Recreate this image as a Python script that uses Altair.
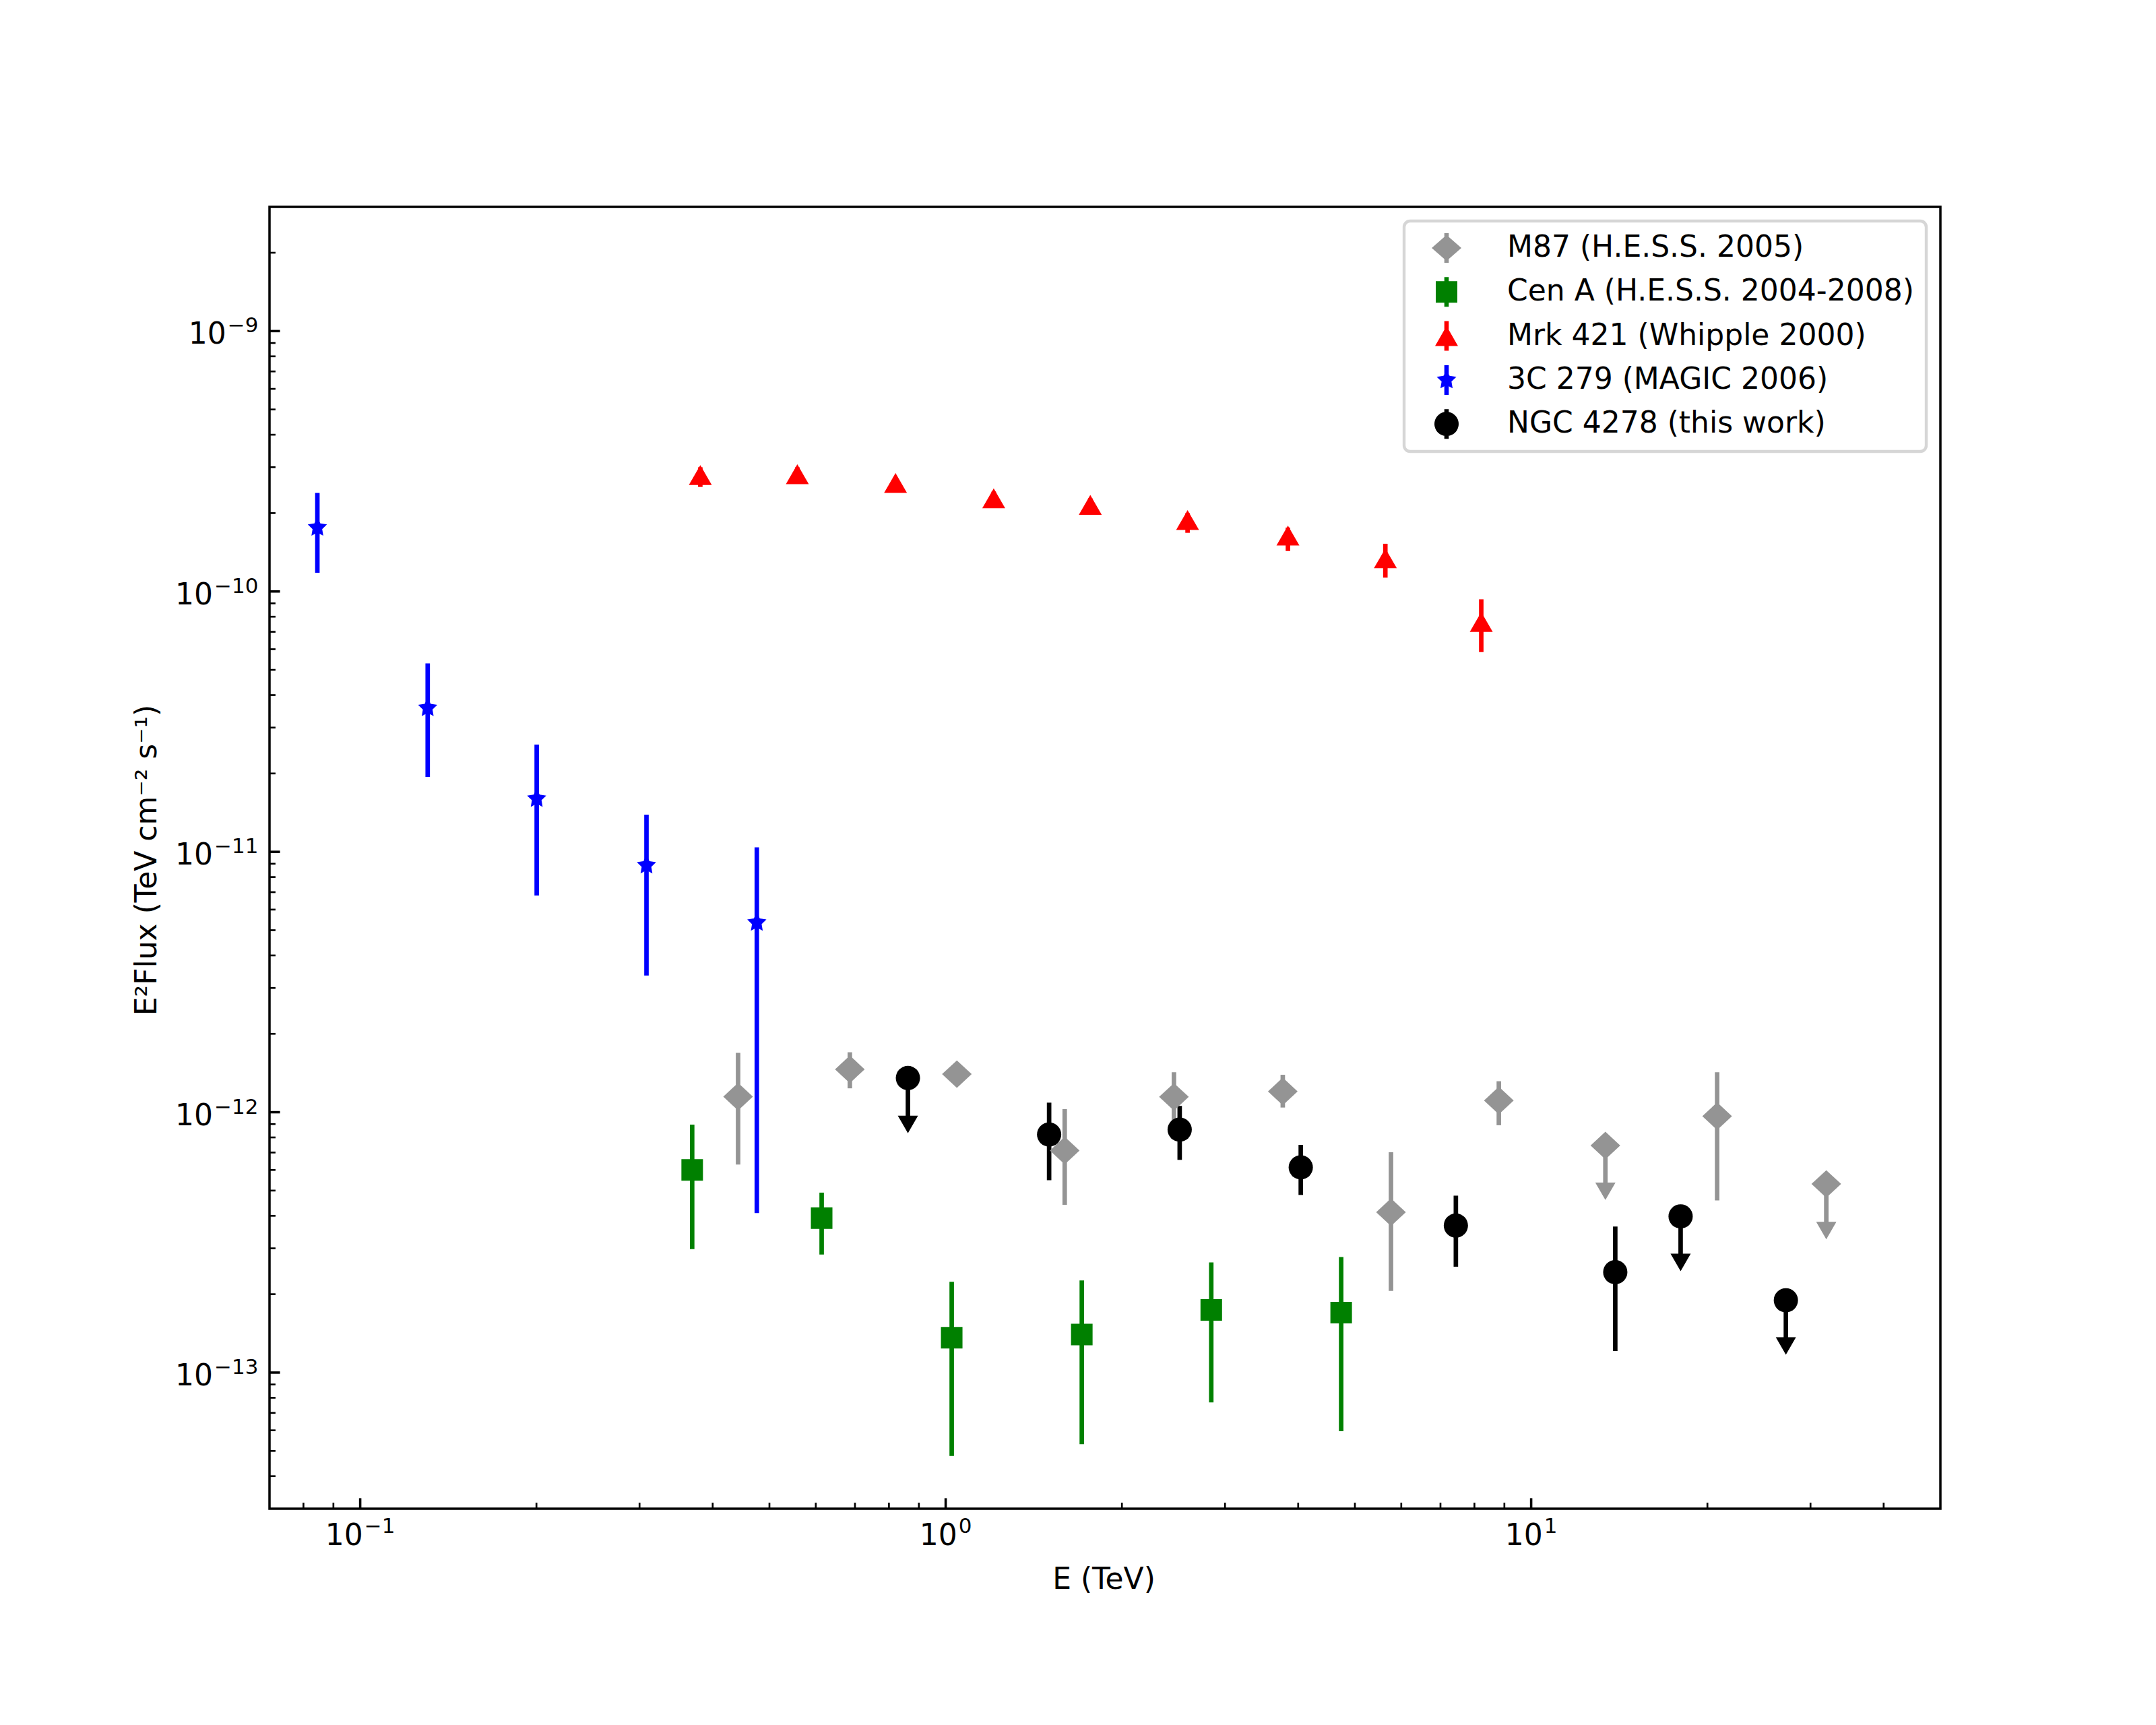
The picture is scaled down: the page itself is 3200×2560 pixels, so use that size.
import math
import altair as alt
import pandas as pd

# ---------------- data ----------------
series_names = ["M87 (H.E.S.S. 2005)", "Cen A (H.E.S.S. 2004-2008)", "Mrk 421 (Whipple 2000)",
                "3C 279 (MAGIC 2006)", "NGC 4278 (this work)"]
series_colors = ["#949494", "#008000", "#ff0000", "#0000ff", "#000000"]

m87_E = [0.442, 0.686, 1.045, 1.597, 2.454, 3.765, 5.762, 8.806, 13.39, 20.78, 31.92]
m87_F = [1.147e-12, 1.461e-12, 1.40e-12, 7.12e-13, 1.145e-12, 1.201e-12, 4.13e-13, 1.109e-12, 7.45e-13, 9.65e-13, 5.30e-13]
m87_lo = [6.29e-13, 1.235e-12, 1.30e-12, 4.41e-13, 9.22e-13, 1.042e-12, 2.06e-13, 8.91e-13, None, 4.58e-13, None]
m87_hi = [1.689e-12, 1.699e-12, 1.50e-12, 1.027e-12, 1.424e-12, 1.392e-12, 7.02e-13, 1.315e-12, None, 1.424e-12, None]
m87_ul = [None, None, None, None, None, None, None, None, 4.60e-13, None, 3.25e-13]

cena_E = [0.369, 0.614, 1.024, 1.708, 2.842, 4.737]
cena_F = [6.00e-13, 3.92e-13, 1.36e-13, 1.40e-13, 1.74e-13, 1.70e-13]
cena_lo = [2.98e-13, 2.84e-13, 4.78e-14, 5.31e-14, 7.68e-14, 5.95e-14]
cena_hi = [8.96e-13, 4.91e-13, 2.23e-13, 2.26e-13, 2.65e-13, 2.78e-13]
cena_ul = [None, None, None, None, None, None]

mrk_E = [0.381, 0.558, 0.821, 1.208, 1.766, 2.589, 3.842, 5.636, 8.218]
mrk_F = [2.80e-10, 2.82e-10, 2.61e-10, 2.28e-10, 2.15e-10, 1.88e-10, 1.64e-10, 1.34e-10, 7.64e-11]
mrk_lo = [2.52e-10, 2.65e-10, 2.45e-10, 2.12e-10, 1.99e-10, 1.68e-10, 1.43e-10, 1.13e-10, 5.85e-11]
mrk_hi = [3.00e-10, 3.00e-10, 2.75e-10, 2.42e-10, 2.28e-10, 2.00e-10, 1.76e-10, 1.525e-10, 9.33e-11]
mrk_ul = [None, None, None, None, None, None, None, None, None]

c3_E = [0.0845, 0.1304, 0.2002, 0.3083, 0.4758]
c3_F = [1.76e-10, 3.57e-11, 1.60e-11, 8.88e-12, 5.35e-12]
c3_lo = [1.18e-10, 1.94e-11, 6.80e-12, 3.35e-12, 4.10e-13]
c3_hi = [2.39e-10, 5.29e-11, 2.58e-11, 1.39e-11, 1.04e-11]
c3_ul = [None, None, None, None, None]

ngc_E = [0.862, 1.502, 2.510, 4.041, 7.437, 13.92, 18.00, 27.23]
ngc_F = [1.353e-12, 8.21e-13, 8.57e-13, 6.14e-13, 3.67e-13, 2.43e-13, 3.98e-13, 1.895e-13]
ngc_lo = [None, 5.48e-13, 6.56e-13, 4.81e-13, 2.55e-13, 1.21e-13, None, None]
ngc_hi = [None, 1.088e-12, 1.057e-12, 7.49e-13, 4.78e-13, 3.64e-13, None, None]
ngc_ul = [8.30e-13, None, None, None, None, None, 2.45e-13, 1.17e-13]

x_major = [0.1, 1, 10]
x_major_exp = ["−1", "0", "1"]
x_minor = [0.08, 0.09, 0.2, 0.3, 0.4, 0.5, 0.6, 0.7, 0.8, 0.9,
           2, 3, 4, 5, 6, 7, 8, 9, 20, 30, 40]
y_major = [1e-13, 1e-12, 1e-11, 1e-10, 1e-9]
y_major_exp = ["−13", "−12", "−11", "−10", "−9"]
y_minor = [4e-14, 5e-14, 6e-14, 7e-14, 8e-14, 9e-14,
           2e-13, 3e-13, 4e-13, 5e-13, 6e-13, 7e-13, 8e-13, 9e-13,
           2e-12, 3e-12, 4e-12, 5e-12, 6e-12, 7e-12, 8e-12, 9e-12,
           2e-11, 3e-11, 4e-11, 5e-11, 6e-11, 7e-11, 8e-11, 9e-11,
           2e-10, 3e-10, 4e-10, 5e-10, 6e-10, 7e-10, 8e-10, 9e-10,
           2e-9]
tick_base = "10"

# ---------------- styling ----------------
FONT = "DejaVu Sans"
FS, FS_SUP = 44, 31
W, H = 2480, 1932
LW = 6.7
MAJ, MIN = 15.6, 8.9


def text_width(s, fs):
    # DejaVu Sans advance widths (em): digits 0.636, minus sign 0.838
    return fs * sum(0.838 if ch == "−" else 0.636 for ch in s)


def star_path(R, r_in=0.382):
    pts = []
    for i in range(10):
        ang = math.radians(36 * i)
        rad = R if i % 2 == 0 else R * r_in
        pts.append((rad * math.sin(ang), -rad * math.cos(ang)))
    return "M" + "L".join(f"{x:.4f},{y:.4f}" for x, y in pts) + "Z"


def circle_path(r, n=48):
    pts = []
    for i in range(n):
        ang = 2 * math.pi * i / n
        pts.append((r * math.sin(ang), -r * math.cos(ang)))
    return "M" + "L".join(f"{x:.4f},{y:.4f}" for x, y in pts) + "Z"


STUB = "M-0.15,-1L0.15,-1L0.15,1L-0.15,1Z"
DIAMOND = "M0,-0.93L1,0L0,0.93L-1,0Z"
legend_paths = [
    STUB + "M0,-0.88L1,0L0,0.88L-1,0Z",
    STUB + "M-0.727,-0.727L0.727,-0.727L0.727,0.727L-0.727,0.727Z",
    STUB + "M0,-0.68L0.773,0.68L-0.773,0.68Z",
    STUB + star_path(0.70, 0.5),
    STUB + circle_path(0.818),
]
marker_shapes = [DIAMOND, "square", "triangle-up", star_path(1.0, 0.5), "circle"]
marker_sizes = [1936, 1024, 1156, 900, 1296]

series_data = [
    (m87_E, m87_F, m87_lo, m87_hi, m87_ul),
    (cena_E, cena_F, cena_lo, cena_hi, cena_ul),
    (mrk_E, mrk_F, mrk_lo, mrk_hi, mrk_ul),
    (c3_E, c3_F, c3_lo, c3_hi, c3_ul),
    (ngc_E, ngc_F, ngc_lo, ngc_hi, ngc_ul),
]

xscale = alt.Scale(type="log", domain=[0.07, 50], nice=False)
yscale = alt.Scale(type="log", domain=[3e-14, 3e-9], nice=False)

common_axis = dict(ticks=False, domain=False, grid=False, labels=False,
                   titleFont=FONT, titleFontSize=FS, titleFontWeight="normal", titleColor="black")
x_axis = alt.Axis(title="E (TeV)", values=x_major, titleX=1238, titleY=118, titleAlign="center",
                  titleBaseline="alphabetic", titleAngle=0, **common_axis)
y_axis = alt.Axis(title="E²Flux (TeV cm⁻² s⁻¹)", values=y_major, titleX=-169, titleY=969,
                  titleAlign="center", titleBaseline="alphabetic", titleAngle=270, **common_axis)


def X(field):
    return alt.X(field, type="quantitative", scale=xscale, axis=x_axis)


def Y(field):
    return alt.Y(field, type="quantitative", scale=yscale, axis=y_axis)


layers = []

# error bars (drawn beneath all markers)
for (E, F, lo, hi, ul), col in zip(series_data, series_colors):
    df = pd.DataFrame({"E": E, "F": F, "lo": lo, "hi": hi, "tip": ul})
    err = df.dropna(subset=["lo", "hi"])
    if len(err):
        layers.append(alt.Chart(err).mark_rule(color=col, strokeWidth=LW).encode(
            x=X("E"), y=Y("lo"), y2="hi"))
    upl = df.dropna(subset=["tip"])
    if len(upl):
        layers.append(alt.Chart(upl).mark_rule(color=col, strokeWidth=LW, y2Offset=-13).encode(
            x=X("E"), y=Y("F"), y2="tip"))
        layers.append(alt.Chart(upl).mark_point(shape="triangle-down", filled=True, size=900,
                                                color=col, opacity=1, strokeWidth=0,
                                                yOffset=-13).encode(x=X("E"), y=Y("tip")))

# markers
for (E, F, lo, hi, ul), col, shp, sz in zip(series_data, series_colors, marker_shapes, marker_sizes):
    df = pd.DataFrame({"E": E, "F": F})
    layers.append(alt.Chart(df).mark_point(shape=shp, filled=True, size=sz, color=col,
                                           opacity=1, strokeWidth=0).encode(x=X("E"), y=Y("F")))

# inward axis ticks
xt_major = pd.DataFrame({"v": x_major})
xt_minor = pd.DataFrame({"v": x_minor})
yt_major = pd.DataFrame({"v": y_major})
yt_minor = pd.DataFrame({"v": y_minor})
layers.append(alt.Chart(xt_major).mark_rule(color="black", strokeWidth=3.55).encode(
    x=X("v"), y=alt.value(H), y2=alt.value(H - MAJ)))
layers.append(alt.Chart(xt_minor).mark_rule(color="black", strokeWidth=2.67).encode(
    x=X("v"), y=alt.value(H), y2=alt.value(H - MIN)))
layers.append(alt.Chart(yt_major).mark_rule(color="black", strokeWidth=3.55).encode(
    y=Y("v"), x=alt.value(0), x2=alt.value(MAJ)))
layers.append(alt.Chart(yt_minor).mark_rule(color="black", strokeWidth=2.67).encode(
    y=Y("v"), x=alt.value(0), x2=alt.value(MIN)))

# tick labels 10^n with a real superscript exponent
base_w = text_width(tick_base, FS)
for v, ex in zip(x_major, x_major_exp):
    total = base_w + 2 + text_width(ex, FS_SUP)
    d = pd.DataFrame({"v": [v], "b": [tick_base], "e": [ex]})
    layers.append(alt.Chart(d).mark_text(font=FONT, fontSize=FS, color="black", align="left",
                                         baseline="alphabetic", dx=-total / 2).encode(
        x=X("v"), y=alt.value(H + 54), text="b:N"))
    layers.append(alt.Chart(d).mark_text(font=FONT, fontSize=FS_SUP, color="black", align="left",
                                         baseline="alphabetic", dx=-total / 2 + base_w + 2).encode(
        x=X("v"), y=alt.value(H + 36), text="e:N"))
for v, ex in zip(y_major, y_major_exp):
    ew = text_width(ex, FS_SUP)
    d = pd.DataFrame({"v": [v], "b": [tick_base], "e": [ex]})
    layers.append(alt.Chart(d).mark_text(font=FONT, fontSize=FS, color="black", align="right",
                                         baseline="alphabetic", dy=19).encode(
        x=alt.value(-16.5 - ew - 2), y=Y("v"), text="b:N"))
    layers.append(alt.Chart(d).mark_text(font=FONT, fontSize=FS_SUP, color="black", align="right",
                                         baseline="alphabetic", dy=2).encode(
        x=alt.value(-16.5), y=Y("v"), text="e:N"))

# legend (invisible layer that only drives the legend)
leg = alt.Legend(title=None, orient="top-right", offset=21, padding=18, symbolOffset=23,
                 labelOffset=68, rowPadding=21.3, symbolSize=1936, symbolStrokeWidth=0,
                 symbolOpacity=1, labelFont=FONT, labelFontSize=FS, labelColor="black",
                 labelLimit=2000, strokeColor="#d6d6d6", cornerRadius=9,
                 fillColor="white")
legend_df = pd.DataFrame({"series": series_names})
layers.append(alt.Chart(legend_df).mark_point(filled=True, opacity=0).encode(
    color=alt.Color("series:N", scale=alt.Scale(domain=series_names, range=series_colors), legend=leg),
    shape=alt.Shape("series:N", scale=alt.Scale(domain=series_names, range=legend_paths), legend=leg),
))

chart = alt.layer(*layers).properties(
    width=W, height=H,
    autosize=alt.AutoSizeParams(type="none"),
    padding={"left": 392, "top": 299, "right": 312, "bottom": 313},
).configure(background="white").configure_view(
    stroke="black", strokeWidth=3.5
).configure_legend(strokeWidth=4.4)

chart.save("out.html", embed_options={"renderer": "svg", "actions": False})
